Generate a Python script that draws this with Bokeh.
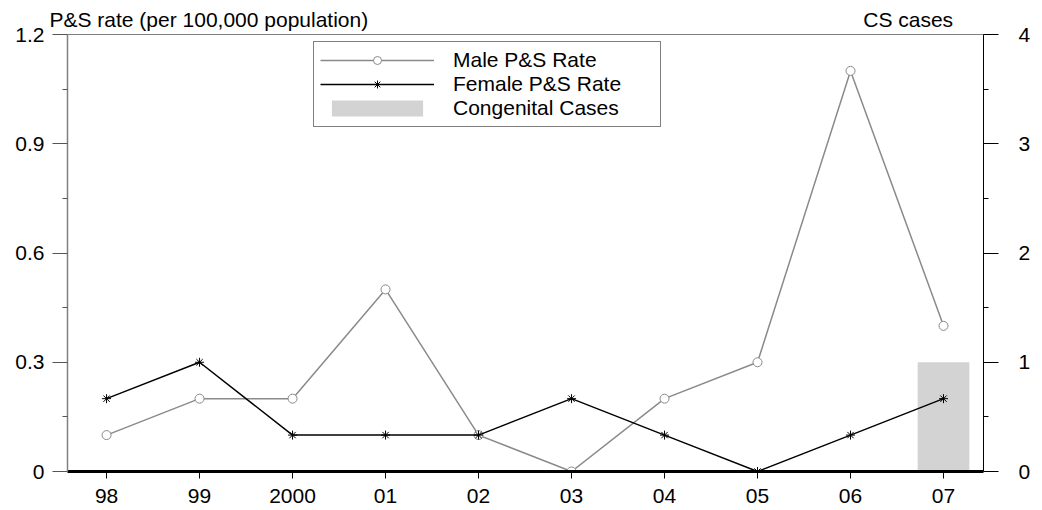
from bokeh.plotting import figure
from bokeh.models import (Range1d, LinearAxis, FixedTicker, Span, Legend, LegendItem)
from bokeh.embed import file_html
from bokeh.resources import INLINE

years = ["98", "99", "2000", "01", "02", "03", "04", "05", "06", "07"]
male_rate = [0.1, 0.2, 0.2, 0.5, 0.1, 0.0, 0.2, 0.3, 1.1, 0.4]
female_rate = [0.2, 0.3, 0.1, 0.1, 0.1, 0.2, 0.1, 0.0, 0.1, 0.2]
congenital_cases = [0, 0, 0, 0, 0, 0, 0, 0, 0, 1]
left_title = "P&S rate (per 100,000 population)"
right_title = "CS cases"

xs = list(range(len(years)))
FONT = "Liberation Sans"
FS = "21px"

p = figure(width=1040, height=510, output_backend="svg", toolbar_location=None,
           x_range=Range1d(-0.42, 9.43), y_range=Range1d(0, 1.2),
           min_border_left=67, min_border_right=57, min_border_top=34, min_border_bottom=39)
p.background_fill_color = "white"
p.border_fill_color = "white"
p.outline_line_color = None
p.grid.visible = False
p.extra_y_ranges = {"cs": Range1d(0, 4)}

bars = p.vbar(x=xs, top=congenital_cases, width=0.556, y_range_name="cs",
              fill_color="#d3d3d3", line_color=None)

male_line = p.line(xs, male_rate, line_color="#8a8a8a", line_width=1.5)
male_pts = p.scatter(xs, male_rate, marker="circle", size=9, line_color="#8a8a8a",
                     fill_color="white", line_width=1)
female_line = p.line(xs, female_rate, line_color="black", line_width=1.5)
female_pts = p.scatter(xs, female_rate, marker="asterisk", size=9, line_color="black",
                       line_width=1)

p.add_layout(Span(location=1.2, dimension="width", line_color="black", line_width=1))

xa = p.xaxis[0]
xa.ticker = FixedTicker(ticks=xs)
xa.major_label_overrides = {i: y for i, y in zip(xs, years)}
xa.axis_line_color = "black"
xa.axis_line_width = 3
xa.major_tick_out = 7
xa.major_tick_in = 0
xa.major_tick_line_color = "black"
xa.minor_tick_line_color = None
xa.major_label_standoff = 10
xa.major_label_text_font = FONT
xa.major_label_text_font_size = FS
xa.major_label_text_color = "black"

# top "axis" carrying the two axis titles as text
ta = LinearAxis(ticker=FixedTicker(ticks=[1.1, 8.62]),
                major_label_overrides={1.1: left_title, 8.62: right_title})
ta.axis_line_color = None
ta.major_tick_line_color = None
ta.minor_tick_line_color = None
ta.major_tick_out = 0
ta.major_tick_in = 0
ta.major_label_standoff = 4
ta.major_label_text_font = FONT
ta.major_label_text_font_size = FS
ta.major_label_text_color = "black"
p.add_layout(ta, "above")

ya = p.yaxis[0]
ya.ticker = FixedTicker(ticks=[0, 0.3, 0.6, 0.9, 1.2], minor_ticks=[0.15, 0.45, 0.75, 1.05])
ya.major_label_overrides = {0: "0"}
ya.axis_line_color = "#808080"
ya.axis_line_width = 1.5
ya.major_tick_out = 15
ya.major_tick_in = 0
ya.minor_tick_out = 5
ya.minor_tick_in = 0
ya.major_tick_line_color = "#555555"
ya.minor_tick_line_color = "#555555"
ya.major_label_standoff = 8
ya.major_label_text_font = FONT
ya.major_label_text_font_size = FS
ya.major_label_text_color = "black"

ra = LinearAxis(y_range_name="cs",
                ticker=FixedTicker(ticks=[0, 1, 2, 3, 4], minor_ticks=[0.5, 1.5, 2.5, 3.5]))
ra.axis_line_color = "black"
ra.axis_line_width = 1
ra.major_tick_out = 15
ra.major_tick_in = 0
ra.minor_tick_out = 5
ra.minor_tick_in = 0
ra.major_tick_line_color = "black"
ra.minor_tick_line_color = "black"
ra.major_label_standoff = 20
ra.major_label_text_font = FONT
ra.major_label_text_font_size = FS
ra.major_label_text_color = "black"
p.add_layout(ra, "right")

legend = Legend(items=[
    LegendItem(label="Male P&S Rate", renderers=[male_line, male_pts]),
    LegendItem(label="Female P&S Rate", renderers=[female_line, female_pts]),
    LegendItem(label="Congenital Cases", renderers=[bars]),
], location=(246, 344))
legend.border_line_color = "black"
legend.border_line_width = 1
legend.background_fill_alpha = 1
legend.padding = 6
legend.margin = 0
legend.spacing = 0
legend.glyph_width = 114
legend.glyph_height = 20
legend.label_height = 20
legend.label_width = 201
legend.label_standoff = 19
legend.label_text_font = FONT
legend.label_text_font_size = FS
legend.label_text_color = "black"
p.add_layout(legend, "center")

open("out.html", "w").write(file_html(p, INLINE))
